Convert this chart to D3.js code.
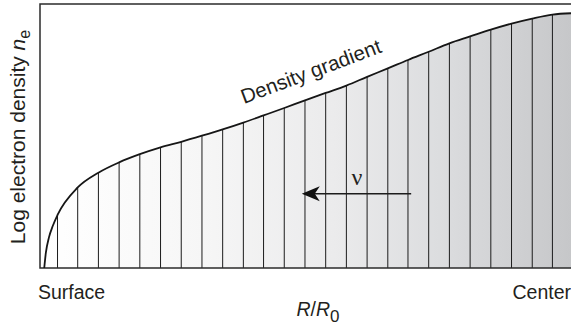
<!DOCTYPE html>
<html>
<head>
<meta charset="utf-8">
<script src="https://cdn.jsdelivr.net/npm/d3@7"></script>
<style>
  html, body { margin: 0; padding: 0; background: #fff; }
  svg { display: block; }
  text { font-family: "Liberation Sans", Arial, sans-serif; fill: #231f20; }
</style>
</head>
<body>
<svg id="chart" width="571" height="329"></svg>
<script>
// Radial position R/R0 (1 = surface, 0 = center) and log electron density (arbitrary units)
const surfaceRadius  = [0.992, 0.989, 0.983, 0.976];
const surfaceDensity = [0.0, 5.7, 11.7, 15.9];

// Shell boundaries drawn as vertical dividers
const shellRadius = [0.967, 0.929, 0.890, 0.851, 0.812, 0.773, 0.734, 0.695, 0.656, 0.617,
                     0.579, 0.540, 0.501, 0.462, 0.423, 0.384, 0.345, 0.307, 0.268, 0.229,
                     0.190, 0.151, 0.112, 0.073, 0.035];
const shellDensity = [20.1, 30.5, 36.1, 40.0, 43.1, 45.7, 47.8, 50.1, 52.5, 55.1,
                      57.8, 60.6, 63.5, 66.3, 69.1, 72.4, 75.6, 78.8, 81.9, 85.1,
                      87.7, 90.3, 92.6, 94.5, 96.0];

const centerRadius  = [0.0];
const centerDensity = [96.5];

// Annotation positions (same units)
const flowArrow = { from: 0.301, to: 0.507, level: 28.1 };
const flowLabel = { text: "ν", r: 0.403, level: 31.4 };

const edgeLabels = ["Surface", "Center"];

const svg = d3.select("#chart");
const plot = { left: 40, right: 571, top: 4, bottom: 268 };

const x = d3.scaleLinear().domain([1, 0]).range([plot.left, plot.right]);
const y = d3.scaleLinear().domain([0, 100]).range([plot.bottom, plot.top]);

const profile = []
  .concat(surfaceRadius.map((r, i) => ({ r, v: surfaceDensity[i] })))
  .concat(shellRadius.map((r, i) => ({ r, v: shellDensity[i] })))
  .concat(centerRadius.map((r, i) => ({ r, v: centerDensity[i] })));

// Horizontal shading from light surface to darker core
const defs = svg.append("defs");
const grad = defs.append("linearGradient")
  .attr("id", "coreShade")
  .attr("gradientUnits", "userSpaceOnUse")
  .attr("x1", x(surfaceRadius[0])).attr("x2", x(0))
  .attr("y1", 0).attr("y2", 0);
[[0, "#ffffff"], [0.3, "#f6f6f6"], [0.55, "#ebebec"], [0.75, "#dcdddf"], [1, "#c6c7c9"]]
  .forEach(([o, c]) => grad.append("stop").attr("offset", o).attr("stop-color", c));

const area = d3.area()
  .x(d => x(d.r)).y0(y(0)).y1(d => y(d.v))
  .curve(d3.curveMonotoneX);
const line = d3.line()
  .x(d => x(d.r)).y(d => y(d.v))
  .curve(d3.curveMonotoneX);

const sorted = profile.slice().sort((a, b) => b.r - a.r);

svg.append("path")
  .datum(sorted)
  .attr("d", area)
  .attr("fill", "url(#coreShade)");

// Shell dividers
svg.append("g")
  .selectAll("line")
  .data(shellRadius)
  .join("line")
  .attr("x1", d => x(d)).attr("x2", d => x(d))
  .attr("y1", y(0))
  .attr("y2", (d, i) => y(shellDensity[i]))
  .attr("stroke", "#1c1c1c")
  .attr("stroke-width", 1);

// Frame: left, top, bottom
svg.append("path")
  .attr("d", `M${plot.right},${plot.top}H${plot.left}V${plot.bottom}H${plot.right}`)
  .attr("fill", "none")
  .attr("stroke", "#2b2b2b")
  .attr("stroke-width", 1.5);

// Density profile curve
svg.append("path")
  .datum(sorted)
  .attr("d", line)
  .attr("fill", "none")
  .attr("stroke", "#161616")
  .attr("stroke-width", 1.8);

// Flow arrow
const ay = y(flowArrow.level);
const ax0 = x(flowArrow.from), ax1 = x(flowArrow.to);
svg.append("line")
  .attr("x1", ax0).attr("x2", ax1 + 8)
  .attr("y1", ay).attr("y2", ay)
  .attr("stroke", "#1c1c1c").attr("stroke-width", 1.6);
svg.append("path")
  .attr("d", `M${ax1},${ay}L${ax1 + 18},${ay - 7.5}L${ax1 + 13},${ay}L${ax1 + 18},${ay + 7.5}Z`)
  .attr("fill", "#111");

svg.append("text")
  .attr("x", x(flowLabel.r)).attr("y", y(flowLabel.level))
  .attr("text-anchor", "middle")
  .style("font-family", "'Liberation Serif', 'Times New Roman', serif")
  .style("font-size", "24px")
  .text(flowLabel.text);

// Label along the curve
svg.append("text")
  .attr("transform", "translate(244,104) rotate(-20.5)")
  .style("font-size", "20.5px")
  .text("Density gradient");

// Edge labels
svg.append("text")
  .attr("x", 38).attr("y", 299)
  .style("font-size", "19.5px")
  .text(edgeLabels[0]);
svg.append("text")
  .attr("x", 571).attr("y", 299)
  .attr("text-anchor", "end")
  .style("font-size", "19.5px")
  .text(edgeLabels[1]);

// x axis title R/R0
const xt = svg.append("text")
  .attr("x", 318).attr("y", 316)
  .attr("text-anchor", "middle")
  .style("font-size", "19.5px");
xt.append("tspan").style("font-style", "italic").text("R");
xt.append("tspan").text("/");
xt.append("tspan").style("font-style", "italic").text("R");
xt.append("tspan").attr("dy", 6).style("font-size", "17px").text("0");

// y axis title
const yt = svg.append("text")
  .attr("transform", "translate(25,137) rotate(-90)")
  .attr("text-anchor", "middle")
  .style("font-size", "21px");
yt.append("tspan").text("Log electron density ");
yt.append("tspan").style("font-style", "italic").text("n");
yt.append("tspan").attr("dy", 5).style("font-size", "16px").text("e");
</script>
</body>
</html>
